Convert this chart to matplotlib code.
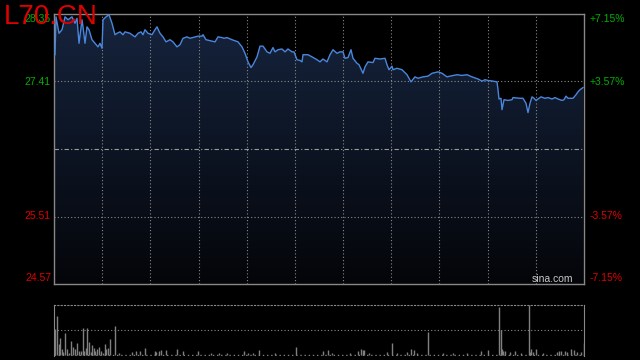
#!/usr/bin/python

import matplotlib as mpl
import matplotlib.pyplot as plt
import numpy as np
from matplotlib.patches import Polygon


# intraday price, minutes from the open
minutes = [1, 2, 5, 8, 11, 14, 18, 21, 23, 25, 28, 29, 31, 33, 35, 38, 41, 44,
           46, 48, 49, 52, 55, 58, 61, 63, 66, 69, 71, 76, 81, 84, 87, 89, 91,
           94, 98, 101, 103, 106, 109, 112, 116, 119, 123, 126, 129, 133,
           136, 144, 148, 149, 152, 161, 164, 168, 170, 173, 178, 184, 188,
           191, 194, 197, 199, 203, 206, 209, 213, 216, 219, 221, 224, 228,
           231, 234, 238, 240, 243, 246, 248, 249, 254, 258, 263, 266, 269,
           273, 276, 279, 283, 286, 289, 291, 294, 297, 299, 303, 305, 309,
           311, 314, 319, 321, 326, 331, 333, 335, 338, 339, 343, 348, 353,
           357, 361, 364, 369, 374, 378, 381, 384, 388, 393, 396, 403, 408,
           413, 418, 424, 428, 431, 434, 439, 443, 444, 445, 447, 448, 450,
           454, 458, 459, 466, 469, 472, 474, 476, 478, 480, 482, 484, 487,
           491, 494, 498, 501, 504, 508, 510, 512, 514, 519, 522, 524, 526,
           529]
price = [27.78, 28.31, 28.08, 28.13, 28.31, 28.27, 28.31, 28.22, 28.29,
         27.94, 28.27, 28.17, 27.94, 28.17, 28.13, 27.99, 27.94, 27.89,
         27.94, 27.87, 28.27, 28.31, 28.34, 28.22, 28.06, 28.08, 28.10,
         28.06, 28.10, 28.08, 28.03, 28.08, 28.10, 28.06, 28.13, 28.08,
         28.06, 28.13, 28.17, 28.08, 28.03, 27.96, 27.99, 27.96, 27.89,
         27.92, 28.01, 28.03, 28.01, 28.04, 28.04, 28.06, 27.99, 27.96,
         28.03, 28.02, 28.01, 28.02, 27.99, 27.96, 27.89, 27.80, 27.68,
         27.60, 27.64, 27.75, 27.90, 27.90, 27.82, 27.80, 27.88, 27.82,
         27.85, 27.86, 27.82, 27.86, 27.82, 27.82, 27.71, 27.70, 27.68,
         27.78, 27.78, 27.75, 27.71, 27.68, 27.72, 27.68, 27.78, 27.85,
         27.80, 27.82, 27.82, 27.73, 27.74, 27.85, 27.73, 27.66, 27.64,
         27.52, 27.61, 27.68, 27.67, 27.73, 27.72, 27.73, 27.64, 27.57,
         27.62, 27.57, 27.59, 27.57, 27.50, 27.40, 27.47, 27.45, 27.47,
         27.48, 27.52, 27.53, 27.54, 27.52, 27.47, 27.48, 27.50, 27.49,
         27.50, 27.47, 27.44, 27.41, 27.43, 27.42, 27.41, 27.40, 27.29,
         27.16, 27.17, 27.01, 27.15, 27.14, 27.15, 27.18, 27.17, 27.17,
         27.10, 26.97, 27.10, 27.19, 27.17, 27.14, 27.16, 27.19, 27.17,
         27.18, 27.16, 27.18, 27.16, 27.14, 27.15, 27.20, 27.17, 27.17,
         27.22, 27.26, 27.29, 27.32]

# volume bars (minute, size)
vol_minutes = [1, 3, 5, 6, 8, 9, 11, 13, 15, 17, 19, 21, 23, 25, 27, 29,
               30, 32, 33, 35, 37, 38, 40, 41, 43, 45, 47, 49, 51, 52, 54,
               56, 61, 65, 78, 82, 86, 91, 101, 102, 105, 107, 112, 123, 129,
               144, 157, 165, 173, 190, 194, 199, 205, 221, 242, 269, 274,
               278, 296, 304, 307, 309, 310, 315, 333, 338, 343, 353, 357,
               360, 363, 374, 389, 399, 413, 427, 434, 445, 447, 448, 449,
               451, 456, 461, 467, 475, 476, 477, 479, 482, 489, 503, 505,
               507, 511, 513, 517, 520, 523, 527, 530]
vol = [26, 39, 11, 17, 6, 3, 22, 6, 2, 14, 8, 6, 12, 4, 4, 27, 4, 7, 27, 13,
       3, 10, 7, 4, 6, 8, 4, 2, 11, 6, 7, 16, 29, 2, 3, 4, 4, 7, 4, 3, 4, 5,
       5, 6, 4, 4, 2, 2, 2, 4, 2, 2, 5, 2, 8, 4, 5, 2, 2, 4, 6, 5, 5, 2, 3,
       12, 2, 3, 6, 5, 2, 23, 2, 2, 2, 4, 5, 48, 25, 6, 4, 4, 3, 4, 2, 50, 3,
       6, 3, 6, 2, 3, 4, 4, 4, 3, 6, 5, 3, 3, 12]

prev_close = 26.46
y_ticks = [28.35, 27.41, 25.51, 24.57]
pct_labels = ['+7.15%', '+3.57%', '-3.57%', '-7.15%']
n_cols = 11
x_max = 530

W, H = 640., 360.


def fx(px):
    return px / W


def fy(py):
    return 1. - py / H


def main():
    mpl.rcParams['font.family'] = 'Liberation Sans'
    fig = plt.figure(figsize=(6.4, 3.6), dpi=100, facecolor='black')

    ax = fig.add_axes([fx(54), fy(284), fx(530), 270. / H])
    ax.set_facecolor('black')
    ymin, ymax = y_ticks[-1], y_ticks[0]
    ax.set_xlim(0, x_max)
    ax.set_ylim(ymin, ymax)

    # gradient fill under the price line
    top = np.array([0.085, 0.14, 0.24])
    bot = np.array([0.015, 0.02, 0.035])
    t = np.linspace(0, 1, 256)[:, None]
    grad = (bot + (top - bot) * t)[:, None, :]
    im = ax.imshow(grad, extent=[0, x_max, ymin, ymax], origin='lower',
                   aspect='auto', zorder=1)
    verts = ([(minutes[0], ymin)] + list(zip(minutes, price))
             + [(minutes[-1], ymin)])
    poly = Polygon(verts, closed=True, transform=ax.transData,
                   facecolor='none', edgecolor='none')
    ax.add_patch(poly)
    im.set_clip_path(poly)

    ax.plot(minutes, price, color='#4a86dc', lw=1.0, zorder=3)

    grid_kw = dict(color='#8a8a8a', lw=0.8, ls=(0, (1, 2)), zorder=2)
    for k in range(1, n_cols):
        ax.axvline(k * x_max / n_cols, **grid_kw)
    for v in y_ticks[1:3]:
        ax.axhline(v, **grid_kw)
    ax.axhline(prev_close, color='#9a9a9a', lw=0.8,
               ls=(0, (4, 2, 1, 2)), zorder=2)

    ax.set_xticks([])
    ax.set_yticks([])
    for s in ax.spines.values():
        s.set_color('#888888')
        s.set_linewidth(1.0)

    # price / percentage labels
    label_y = [19, 82, 216, 278]
    colors = ['#00b000', '#00b000', '#e00000', '#e00000']
    for v, pct, py, c in zip(y_ticks, pct_labels, label_y, colors):
        fig.text(fx(51), fy(py), '%.2f' % v, color=c, fontsize=7.5,
                 ha='right', va='center')
        fig.text(fx(590), fy(py), pct, color=c, fontsize=7.5,
                 ha='left', va='center')

    fig.text(fx(573), fy(279), 'sina.com', color='#c8c8c8', fontsize=7.5,
             ha='right', va='center')
    fig.text(fx(4), fy(17), 'L70.CN', color='#e00000', fontsize=20,
             ha='left', va='center', fontweight='light')

    # volume panel
    vax = fig.add_axes([fx(54), fy(356), fx(530), 51. / H])
    vax.set_facecolor('black')
    vax.set_xlim(0, x_max)
    vmax = max(vol)
    vax.set_ylim(-1, vmax)
    vax.vlines(vol_minutes, 0, vol, color='#808080', lw=1.0, zorder=3)
    vax.axhline(vmax / 2., **grid_kw)
    vax.axhline(0, color='#808080', lw=1.0, ls=(0, (1, 2)), zorder=2)
    vax.set_xticks([])
    vax.set_yticks([])
    for name in ['left', 'right']:
        vax.spines[name].set_color('#888888')
    vax.spines['top'].set_color('#8a8a8a')
    vax.spines['top'].set_linestyle((0, (1, 2)))
    vax.spines['bottom'].set_visible(False)

    fig.savefig('out.png', dpi=100, facecolor='black')


if __name__ == '__main__':
    main()
